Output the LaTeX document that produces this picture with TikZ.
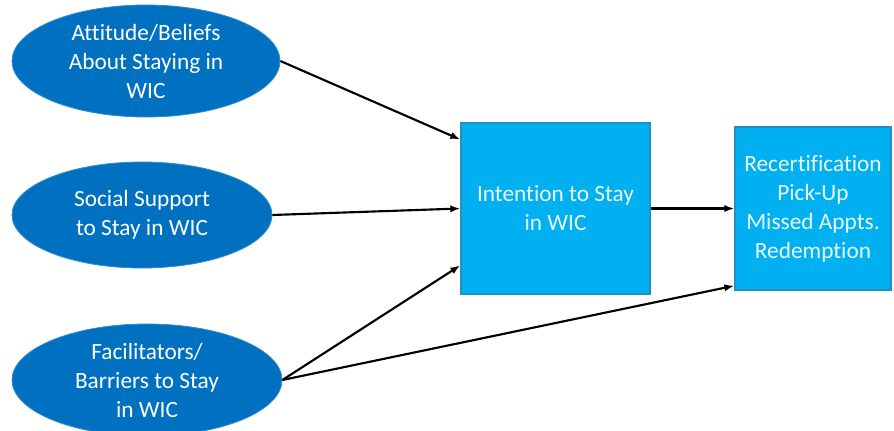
\documentclass[tikz,border=0pt]{standalone}
\usepackage{fontspec}
\setmainfont[Ligatures=NoCommon]{Carlito}
\usetikzlibrary{arrows.meta}
\usetikzlibrary{shapes.geometric}
\usetikzlibrary{calc}

\definecolor{ovalblue}{HTML}{0070C0}
\definecolor{boxblue}{HTML}{00B0F0}
\definecolor{boxedge}{HTML}{2390BF}

\tikzset{
  factor/.style={ellipse, fill=ovalblue, draw=ovalblue!80!white, line width=0.6pt,
    inner sep=-10pt, align=center, text=white,
    font=\fontsize{17.5}{21.75}\selectfont},
  stage/.style={rectangle, fill=boxblue, draw=boxedge, line width=1pt,
    inner sep=0pt, align=center, text=white!92!boxblue,
    font=\fontsize{17.5}{21.75}\selectfont},
  link/.style={line width=1.6pt, -{Latex[length=7.5pt,width=5.5pt]}}
}

\begin{document}
\begin{tikzpicture}[x=0.75pt, y=-0.75pt]
      \useasboundingbox (0,0) rectangle (894,431);

      \node[factor, minimum width=201pt, minimum height=84pt] (att) at (146,61) {Attitude/Beliefs\\About Staying in\\WIC};
      \node[factor, minimum width=195pt, minimum height=79.5pt] (soc) at (142,215) {Social Support\\to Stay in WIC};
      \node[factor, minimum width=202.5pt, minimum height=84pt] (fac) at (147,380) {Facilitators/\\Barriers to Stay\\in WIC};

      \node[stage, minimum width=141.75pt, minimum height=128.25pt] (int) at (555.5,208.5) {Intention to Stay\\in WIC};
      \node[stage, minimum width=117pt, minimum height=122.25pt] (out) at (813,208.5) {Recertification\\Pick-Up\\Missed Appts.\\Redemption};

      \draw[link] (att.east) -- ($(int.north west)!0.1!(int.south west)$);
      \draw[link] (soc.east) -- (int.west);
      \draw[link] (fac.east) -- ($(int.north west)!0.83!(int.south west)$);
      \draw[link] (fac.east) -- ($(out.north west)!0.97!(out.south west)$);
      \draw[link] (int.east) -- (out.west);
    \end{tikzpicture}
\end{document}
